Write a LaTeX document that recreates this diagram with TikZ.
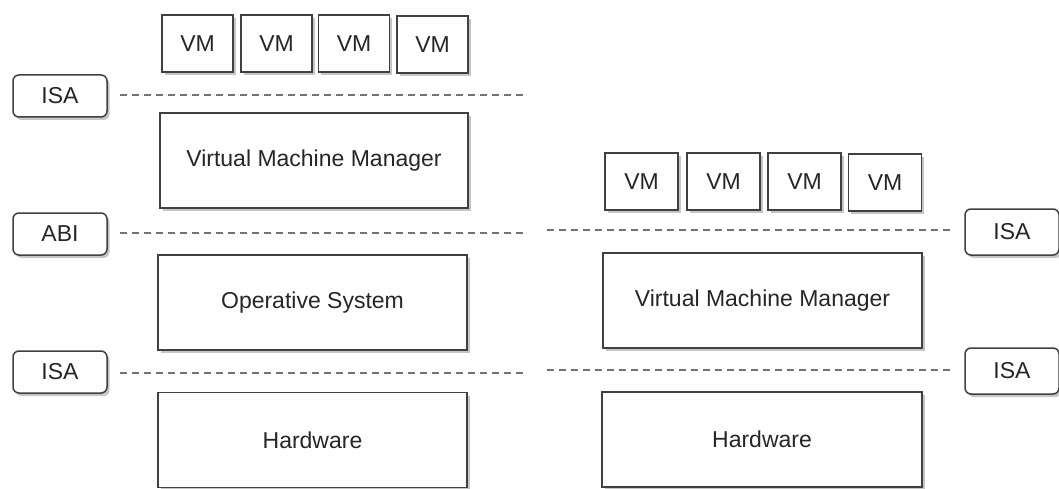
\documentclass[tikz,border=0pt]{standalone}
\usepackage{fontspec}
\setmainfont{Liberation Sans}
\usetikzlibrary{shadows}
\tikzset{
	layer/.style = {
		draw=black!75,
		line width=1.5pt,
		fill=white,
		align=center,
		inner sep=0pt,
		text=black!85,
		font=\fontsize{23}{27}\selectfont,
		drop shadow={opacity=0.45, shadow xshift=2.5pt, shadow yshift=-3pt}
	},
	vmbox/.style = {
		layer,
		minimum width=71pt,
		minimum height=57pt
	},
	bigbox/.style = {
		layer,
		minimum width=309pt,
		minimum height=95pt
	},
	tag/.style = {
		layer,
		rounded corners=6pt,
		minimum width=94pt,
		minimum height=42pt
	},
	border/.style = {
		dashed,
		dash pattern=on 7pt off 5pt,
		draw=black!55,
		line width=1.3pt
	}
}
\begin{document}
\begin{tikzpicture}[x=1pt,y=-1pt]
\useasboundingbox (0,0) rectangle (1059,489);
% left stack
\node [vmbox] (vm_l1) at (197.5,43.5) {VM};
\node [vmbox] (vm_l2) at (276.5,43.5) {VM};
\node [vmbox] (vm_l3) at (354,43.5) {VM};
\node [vmbox] (vm_l4) at (432.5,44.5) {VM};
\node [tag] (isa_l1) at (60,96) {ISA};
\node [bigbox, minimum width=308pt] (vmm_l) at (314,160.5) {Virtual Machine Manager};
\node [tag] (abi_l) at (60,234) {ABI};
\node [bigbox] (os_l) at (312.5,302.5) {Operative System};
\node [tag] (isa_l2) at (60,372) {ISA};
\node [bigbox] (hw_l) at (312.5,440) {Hardware};
\coordinate (end_l1) at (527,95);
\coordinate (end_l2) at (527,233);
\coordinate (end_l3) at (527,373);
\draw [border] (isa_l1.east |- end_l1) ++(12,0) -- (end_l1);
\draw [border] (abi_l.east |- end_l2) ++(12,0) -- (end_l2);
\draw [border] (isa_l2.east |- end_l3) ++(12,0) -- (end_l3);
% right stack
\node [vmbox, minimum width=73pt] (vm_r1) at (641.5,181.5) {VM};
\node [vmbox, minimum width=73pt] (vm_r2) at (723.5,181.5) {VM};
\node [vmbox, minimum width=73pt] (vm_r3) at (804.5,181.5) {VM};
\node [vmbox, minimum width=73pt] (vm_r4) at (885,182.5) {VM};
\node [tag, minimum height=46pt] (isa_r1) at (1012,232) {ISA};
\node [bigbox, minimum width=319pt] (vmm_r) at (762.5,300.5) {Virtual Machine Manager};
\node [tag, minimum height=46pt] (isa_r2) at (1012,371) {ISA};
\node [bigbox, minimum width=320pt] (hw_r) at (762,439.5) {Hardware};
\coordinate (start_r1) at (547,230);
\coordinate (start_r2) at (547,370);
\draw [border] (start_r1) -- ([xshift=-14pt]isa_r1.west |- start_r1);
\draw [border] (start_r2) -- ([xshift=-14pt]isa_r2.west |- start_r2);
\end{tikzpicture}
\end{document}
